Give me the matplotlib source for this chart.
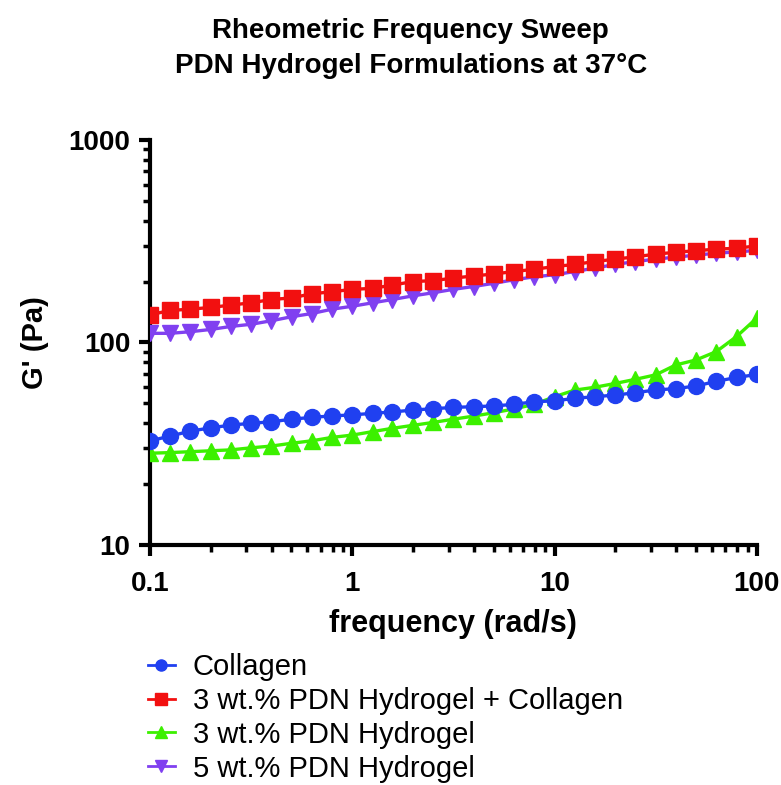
import numpy as np
import matplotlib
matplotlib.use("Agg")
import matplotlib.pyplot as plt

plt.rcParams['font.family'] = ['Liberation Sans', 'DejaVu Sans']

# frequency points: 10 per decade from 0.1 to 100 rad/s
freq = [0.1, 0.126, 0.158, 0.2, 0.251, 0.316, 0.398, 0.501, 0.631, 0.794,
        1.0, 1.26, 1.58, 2.0, 2.51, 3.16, 3.98, 5.01, 6.31, 7.94,
        10.0, 12.6, 15.8, 20.0, 25.1, 31.6, 39.8, 50.1, 63.1, 79.4, 100.0]

collagen = [32.7, 34.5, 36.5, 37.9, 39.1, 39.9, 40.6, 41.8, 42.7, 43.4,
            43.9, 44.7, 45.4, 46.4, 47.1, 47.8, 48.2, 48.6, 49.5, 51.0,
            51.5, 53.0, 54.0, 55.0, 56.5, 58.3, 59.2, 61.0, 64.3, 67.2, 69.5]

pdn3_collagen = [137, 144, 146, 149, 153, 157, 163, 166, 174, 178,
                 183, 185, 192, 200, 202, 208, 213, 218, 224, 230,
                 237, 243, 251, 258, 265, 273, 279, 284, 289, 292, 300]

pdn3 = [28.4, 28.6, 28.9, 29.2, 29.5, 30.2, 30.8, 31.8, 32.7, 34.0,
        34.9, 36.3, 37.7, 39.0, 40.3, 41.8, 43.3, 45.0, 47.0, 49.5,
        54.0, 58.2, 60.1, 62.8, 65.8, 69.2, 77.5, 82.0, 90.2, 107, 132]

pdn5 = [111, 111, 113, 116, 120, 123, 128, 134, 139, 146,
        151, 157, 163, 170, 176, 183, 189, 196, 204, 211,
        216, 224, 233, 243, 251, 258, 264, 270, 276, 280, 285]

labels = ['Collagen', '3 wt.% PDN Hydrogel + Collagen',
          '3 wt.% PDN Hydrogel', '5 wt.% PDN Hydrogel']

fig = plt.figure(figsize=(7.81, 7.85), dpi=100)
ax = fig.add_axes([0.192, 0.3057, 0.777, 0.516])

lw = 2.4
h_col, = ax.plot(freq, collagen, color='#2040F0', marker='o', ms=11.5, lw=lw, zorder=4)
h_red, = ax.plot(freq, pdn3_collagen, color='#F21010', marker='s', ms=11, lw=lw, zorder=4)
h_grn, = ax.plot(freq, pdn3, color='#3CF000', marker='^', ms=12, lw=lw, zorder=3)
h_pur, = ax.plot(freq, pdn5, color='#8040F0', marker='v', ms=12, lw=lw, zorder=3)

ax.set_xscale('log')
ax.set_yscale('log')
ax.set_xlim(0.1, 100)
ax.set_ylim(10, 1000)
ax.set_xticks([0.1, 1, 10, 100])
ax.set_xticklabels(['0.1', '1', '10', '100'])
ax.set_yticks([10, 100, 1000])
ax.set_yticklabels(['10', '100', '1000'])

for side in ['top', 'right']:
    ax.spines[side].set_visible(False)
for side in ['left', 'bottom']:
    ax.spines[side].set_linewidth(3)

ax.tick_params(which='major', direction='out', length=8, width=3,
               labelsize=20, pad=6)
ax.tick_params(axis='x', which='major', pad=11)
ax.tick_params(which='minor', direction='out', length=5, width=2.5)
for lab in ax.get_xticklabels() + ax.get_yticklabels():
    lab.set_fontweight('bold')

ax.set_xlabel('frequency (rad/s)', fontsize=22, fontweight='bold', labelpad=8)
ax.set_ylabel("G' (Pa)", fontsize=21, fontweight='bold', labelpad=14)

fig.text(0.526, 0.961, 'Rheometric Frequency Sweep', ha='center', va='center',
         fontsize=20, fontweight='bold')
fig.text(0.526, 0.916, 'PDN Hydrogel Formulations at 37\u00b0C', ha='center',
         va='center', fontsize=20, fontweight='bold')

leg_handles = []
for h in [h_col, h_red, h_grn, h_pur]:
    c = h.get_color()
    m = h.get_marker()
    leg_handles.append(plt.Line2D([], [], color=c, marker=m, ms=8, lw=2))
fig.legend(leg_handles, labels, loc='upper left',
           bbox_to_anchor=(0.174, 0.183), frameon=False, fontsize=21,
           handlelength=0.95, handletextpad=0.6, labelspacing=0.2,
           borderaxespad=0)

fig.savefig('out.png', dpi=100)
